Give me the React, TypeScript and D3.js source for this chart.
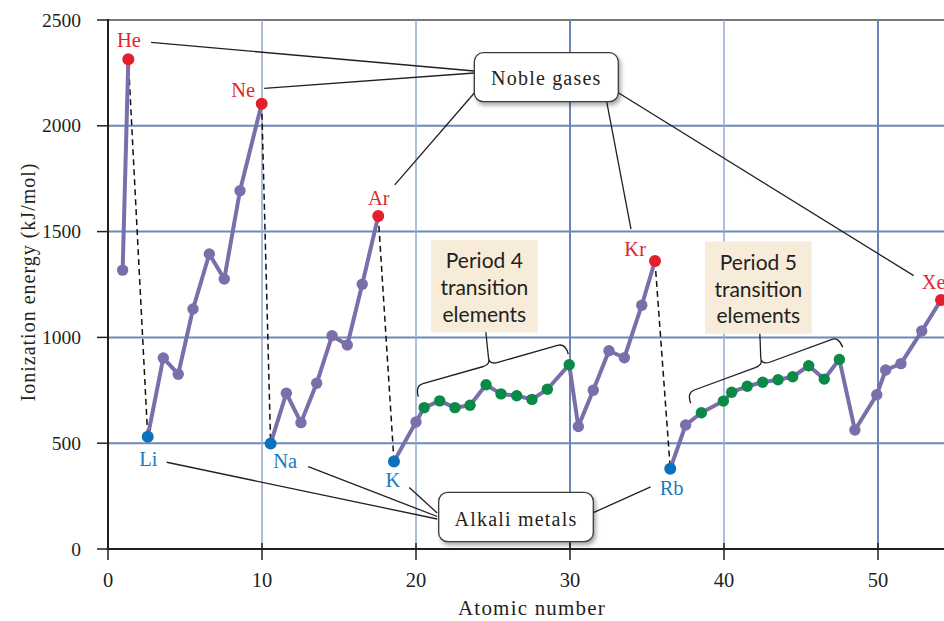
import React from 'react';
import * as d3 from 'd3';

// ---------- data ----------
const symbols = ['H','He','Li','Be','B','C','N','O','F','Ne','Na','Mg','Al','Si','P','S','Cl','Ar','K','Ca','Sc','Ti','V','Cr','Mn','Fe','Co','Ni','Cu','Zn','Ga','Ge','As','Se','Br','Kr','Rb','Sr','Y','Zr','Nb','Mo','Tc','Ru','Rh','Pd','Ag','Cd','In','Sn','Sb','Te','I','Xe'];
const xPositions = [0.95,1.32,2.58,3.59,4.56,5.52,6.58,7.55,8.57,9.98,10.56,11.58,12.53,13.55,14.55,15.54,16.51,17.55,18.57,20.0,20.53,21.54,22.53,23.51,24.55,25.52,26.54,27.53,28.53,29.95,30.54,31.51,32.53,33.53,34.66,35.52,36.51,37.51,38.53,39.96,40.5,41.51,42.51,43.51,44.46,45.5,46.51,47.49,48.5,49.92,50.5,51.49,52.84,54.09];
const energies = [1318,2314,531,903,826,1134,1394,1276,1693,2104,498,736,597,783,1008,964,1251,1574,414,600,668,700,668,679,776,733,724,707,755,871,579,750,937,904,1152,1361,379,586,644,699,741,769,788,800,814,866,803,896,562,729,846,876,1030,1177];
const nobleGases = ['He','Ne','Ar','Kr','Xe'];
const alkaliMetals = ['Li','Na','K','Rb'];
const transitionElements = ['Sc','Ti','V','Cr','Mn','Fe','Co','Ni','Cu','Zn','Y','Zr','Nb','Mo','Tc','Ru','Rh','Pd','Ag','Cd'];
const xTicks = [0,10,20,30,40,50];
const yTicks = [0,500,1000,1500,2000,2500];
const xTitle = 'Atomic number';
const yTitle = 'Ionization energy (kJ/mol)';
const nobleLabel = 'Noble gases';
const alkaliLabel = 'Alkali metals';
const period4Lines = ['Period 4','transition','elements'];
const period5Lines = ['Period 5','transition','elements'];

// ---------- layout ----------
const W = 944, H = 621;
const SERIF = "'Liberation Serif', 'Times New Roman', serif";
const SANS = "Lato, 'Open Sans', sans-serif";
const C = {
  line: '#7a6fab', red: '#e21f2b', blue: '#0a72bd', green: '#0b8a47',
  redText: '#e0262f', blueText: '#1a7bc0', gridH: '#6d89b8', gridV: '#95a8d0', gridV2: '#6b86b6',
  ink: '#231f20', beige: '#f6ecd9'
};
// label offsets relative to the data point [dx, dy, anchor]
const labelOffsets: Record<string, [number, number, string]> = {
  He: [0.7, -12, 'middle'], Ne: [-6.5, -6.4, 'end'], Ar: [0.5, -11, 'middle'],
  Kr: [-9, -5, 'end'], Xe: [-19.3, -10.7, 'start'],
  Li: [0.6, 29.3, 'middle'], Na: [2.6, 24.5, 'start'], K: [-1, 25.4, 'middle'], Rb: [1.4, 26.3, 'middle']
};

function bracePath(ax: number, ay: number, bx: number, by: number, w: number) {
  const L = Math.hypot(bx - ax, by - ay);
  const ux = (bx - ax) / L, uy = (by - ay) / L;
  const vx = uy, vy = -ux; // perpendicular (upwards)
  const h1 = w * 0.66, r = 8;
  const P = (u: number, v: number) => `${(ax + ux * u + vx * v).toFixed(2)},${(ay + uy * u + vy * v).toFixed(2)}`;
  const m = L / 2;
  return `M${P(0,0)} Q${P(0,h1)} ${P(r,h1)} L${P(m - r, h1)} Q${P(m, h1)} ${P(m, w)} Q${P(m, h1)} ${P(m + r, h1)} L${P(L - r, h1)} Q${P(L, h1)} ${P(L, 0)}`;
}

export default function App() {
  const x = d3.scaleLinear().domain([0, 50]).range([108, 878]);
  const y = d3.scaleLinear().domain([0, 2500]).range([549, 20]);
  const pts = symbols.map((s, i) => ({
    s, x: x(xPositions[i]), y: y(energies[i]),
    kind: nobleGases.includes(s) ? 'n' : alkaliMetals.includes(s) ? 'a' : transitionElements.includes(s) ? 't' : 'o'
  }));
  // solid segments break at each alkali metal
  const segments: typeof pts[] = [];
  const dashed: [typeof pts[0], typeof pts[0]][] = [];
  pts.forEach((p, i) => {
    if (i === 0 || p.kind === 'a') {
      if (i > 0) dashed.push([pts[i - 1], p]);
      segments.push([p]);
    } else segments[segments.length - 1].push(p);
  });
  const line = d3.line<any>().x(d => d.x).y(d => d.y);
  const fill = (k: string) => k === 'n' ? C.red : k === 'a' ? C.blue : k === 't' ? C.green : C.line;
  const P = Object.fromEntries(pts.map(p => [p.s, p]));
  const lab = (s: string) => ({ x: P[s].x + labelOffsets[s][0], y: P[s].y + labelOffsets[s][1] });

  const x0 = x(0), xR = W, yTop = y(2500), yBot = y(0);

  // annotation boxes (pixel layout)
  const noble = { x: 474.3, y: 52.7, w: 144, h: 49 };
  const alkali = { x: 438.7, y: 492.3, w: 154.6, h: 49.4 };
  const p4 = { x: 431, y: 240, w: 106.7, h: 92.3 };
  const p5 = { x: 705, y: 241.5, w: 106.7, h: 92.3 };

  const nobleLeaders = [
    [lab('He').x + 22, lab('He').y - 5, noble.x, 71],
    [lab('Ne').x + 9, lab('Ne').y - 9, noble.x, 73],
    [lab('Ar').x + 16, lab('Ar').y - 20, noble.x, 93],
    [lab('Kr').x - 15, lab('Kr').y - 27, 606.7, noble.y + noble.h],
    [lab('Xe').x - 8, lab('Xe').y - 13.6, noble.x + noble.w, 92.7],
  ];
  const alkaliLeaders = [
    [lab('Li').x + 18.4, lab('Li').y - 3.7, alkali.x - 1.5, 519],
    [lab('Na').x + 35, lab('Na').y - 1.5, alkali.x - 1.5, 516.5],
    [lab('K').x + 16.3, lab('K').y + 0.6, alkali.x - 1.5, 513],
    [lab('Rb').x - 21, lab('Rb').y - 8.3, alkali.x + alkali.w, 512.7],
  ];

  const b4 = { ax: 418.3, ay: 396.7, bx: 568.3, by: 354 };
  const b5 = { ax: 690.7, ay: 403.3, bx: 842.7, by: 347.3 };
  const cusp = (b: any, w: number) => {
    const L = Math.hypot(b.bx - b.ax, b.by - b.ay);
    const ux = (b.bx - b.ax) / L, uy = (b.by - b.ay) / L;
    return { x: (b.ax + b.bx) / 2 + uy * w, y: (b.ay + b.by) / 2 - ux * w };
  };
  const c4 = cusp(b4, 17), c5 = cusp(b5, 17);

  return (
    <svg width={W} height={H} viewBox={`0 0 ${W} ${H}`} style={{ position: 'absolute', left: 0, top: 0, display: 'block', background: '#fff' }}>
      <defs>
        <filter id="sh" x="-20%" y="-20%" width="140%" height="150%">
          <feDropShadow dx="2" dy="3" stdDeviation="2" floodColor="#000" floodOpacity="0.35" />
        </filter>
      </defs>
      {/* grid */}
      {yTicks.filter(t => t > 0 && t < 2500).map(t => (
        <line key={'gh' + t} x1={x0} x2={xR} y1={y(t)} y2={y(t)} stroke={C.gridH} strokeWidth={2} />
      ))}
      <line x1={x0} x2={xR} y1={yTop} y2={yTop} stroke="#4a4a4a" strokeWidth={1.5} />
      {xTicks.filter(t => t > 0).map(t => (
        <line key={'gv' + t} x1={x(t)} x2={x(t)} y1={yTop} y2={yBot} stroke={t === 30 || t === 50 ? C.gridV2 : C.gridV} strokeWidth={t === 30 || t === 50 ? 2 : 1.5} />
      ))}
      {/* axes */}
      <line x1={x0} x2={x0} y1={yTop - 1} y2={yBot + 1} stroke={C.ink} strokeWidth={2} />
      <line x1={x0 - 1} x2={xR} y1={yBot} y2={yBot} stroke={C.ink} strokeWidth={2} />
      {yTicks.map(t => (
        <g key={'yt' + t}>
          <line x1={x0 - 11} x2={x0} y1={y(t)} y2={y(t)} stroke={C.ink} strokeWidth={1.5} />
          <text x={81} y={y(t)} dy="0.34em" textAnchor="end" fontFamily={SERIF} fontSize={19.5} fill={C.ink}>{t}</text>
        </g>
      ))}
      {xTicks.map(t => (
        <g key={'xt' + t}>
          <line x1={x(t)} x2={x(t)} y1={yBot - 6} y2={yBot + 11} stroke={C.ink} strokeWidth={1.5} />
          <text x={x(t)} y={586.7} textAnchor="middle" fontFamily={SERIF} fontSize={20.5} fill={C.ink}>{t}</text>
        </g>
      ))}
      <text x={532} y={615} textAnchor="middle" fontFamily={SERIF} fontSize={21} letterSpacing={1.2} fill={C.ink}>{xTitle}</text>
      <text transform={`translate(35,282) rotate(-90)`} textAnchor="middle" fontFamily={SERIF} fontSize={20} letterSpacing={1} fill={C.ink}>{yTitle}</text>

      {/* dashed drops */}
      {dashed.map(([a, b], i) => (
        <line key={'d' + i} x1={a.x} y1={a.y} x2={b.x} y2={b.y} stroke="#111" strokeWidth={1.5} strokeDasharray="6 4" />
      ))}
      {/* series */}
      {segments.map((seg, i) => (
        <path key={'s' + i} d={line(seg) || ''} fill="none" stroke={C.line} strokeWidth={4} strokeLinejoin="round" />
      ))}
      {pts.map(p => (
        <circle key={p.s} cx={p.x} cy={p.y} r={p.kind === 'n' || p.kind === 'a' ? 6 : 5.7} fill={fill(p.kind)} />
      ))}

      {/* leader lines */}
      {[...nobleLeaders, ...alkaliLeaders].map((l, i) => (
        <line key={'l' + i} x1={l[0]} y1={l[1]} x2={l[2]} y2={l[3]} stroke={C.ink} strokeWidth={1.3} />
      ))}
      {/* boxes */}
      <rect x={noble.x} y={noble.y} width={noble.w} height={noble.h} rx={9} fill="#fff" stroke="#3a3a3a" strokeWidth={1.3} filter="url(#sh)" />
      <text x={noble.x + noble.w / 2} y={85} textAnchor="middle" fontFamily={SERIF} fontSize={20} letterSpacing={1.2} fill={C.ink}>{nobleLabel}</text>
      <rect x={alkali.x} y={alkali.y} width={alkali.w} height={alkali.h} rx={9} fill="#fff" stroke="#3a3a3a" strokeWidth={1.3} filter="url(#sh)" />
      <text x={alkali.x + alkali.w / 2} y={525.7} textAnchor="middle" fontFamily={SERIF} fontSize={20} letterSpacing={1.2} fill={C.ink}>{alkaliLabel}</text>

      {[{ b: p4, lines: period4Lines, br: b4, c: c4 }, { b: p5, lines: period5Lines, br: b5, c: c5 }].map((g, gi) => (
        <g key={'p' + gi}>
          <rect x={g.b.x} y={g.b.y} width={g.b.w} height={g.b.h} fill={C.beige} />
          {g.lines.map((t, j) => (
            <text key={j} x={g.b.x + g.b.w / 2} y={g.b.y + 28.3 + j * 26.7} textAnchor="middle" fontFamily={SANS} fontSize={21} fill={C.ink}>{t}</text>
          ))}
          <line x1={g.b.x + g.b.w / 2 + 1.5} y1={g.b.y + g.b.h} x2={g.c.x} y2={g.c.y} stroke={C.ink} strokeWidth={1.3} />
          <path d={bracePath(g.br.ax, g.br.ay, g.br.bx, g.br.by, 17)} fill="none" stroke={C.ink} strokeWidth={1.3} />
        </g>
      ))}

      {/* element labels */}
      {[...nobleGases, ...alkaliMetals].map(s => (
        <text key={'t' + s} x={lab(s).x} y={lab(s).y} textAnchor={labelOffsets[s][2] as any} fontFamily={SERIF} fontSize={20.5}
          fill={nobleGases.includes(s) ? C.redText : C.blueText}>{s}</text>
      ))}
    </svg>
  );
}
